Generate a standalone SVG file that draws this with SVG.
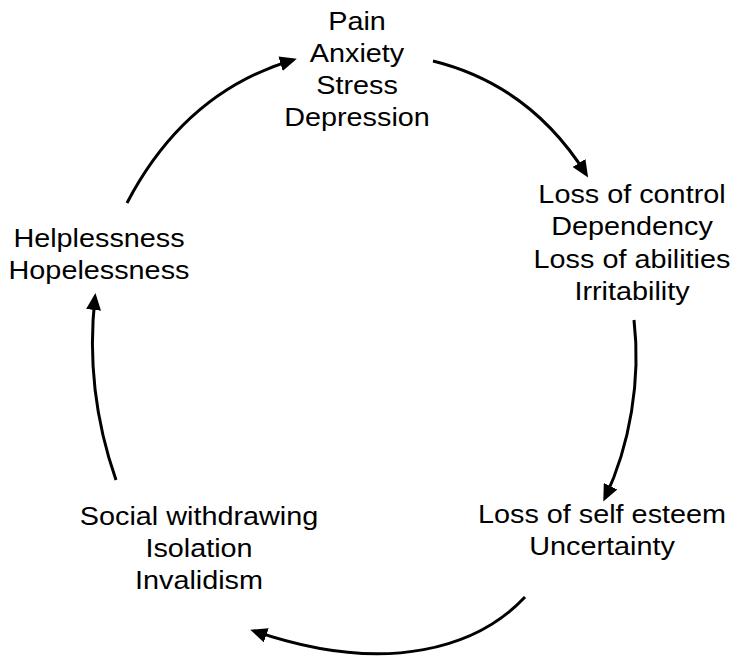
<svg xmlns="http://www.w3.org/2000/svg" width="735" height="657" viewBox="0 0 735 657">
<defs>
<style>
text{font-family:"Liberation Sans",Arial,Helvetica,sans-serif;font-size:25.5px;fill:#000;text-anchor:middle}
.c{fill:none;stroke:#000;stroke-width:3;marker-end:url(#ah)}
</style>
<marker id="ah" markerUnits="userSpaceOnUse" markerWidth="17" markerHeight="15" viewBox="0 0 17 15" refX="13" refY="7.5" orient="auto">
<path d="M0,0 L17,7.5 L0,15 z" fill="#000"/>
</marker>
</defs>
<rect width="735" height="657" fill="#fff"/>
<g id="connectors">
<path class="c" d="M433,61 Q530,85 586,174"/>
<path class="c" d="M634,320 C641,380 630,445 605,498"/>
<path class="c" d="M525,597 C480,645 390,678 254,631"/>
<path class="c" d="M116,480 C95,420 88,360 95,297"/>
<path class="c" d="M127,203 Q185,92 293,60"/>
</g>
<g id="node-pain" transform="translate(357,0) scale(1.13,1)">
<text x="0" y="30">Pain</text>
<text x="0" y="62">Anxiety</text>
<text x="0" y="94">Stress</text>
<text x="0" y="126">Depression</text>
</g>
<g id="node-control" transform="translate(632,0) scale(1.13,1)">
<text x="0" y="203">Loss of control</text>
<text x="0" y="235">Dependency</text>
<text x="0" y="268">Loss of abilities</text>
<text x="0" y="300">Irritability</text>
</g>
<g id="node-esteem" transform="translate(602,0) scale(1.13,1)">
<text x="0" y="523">Loss of self esteem</text>
<text x="0" y="555">Uncertainty</text>
</g>
<g id="node-social" transform="translate(199,0) scale(1.13,1)">
<text x="0" y="525">Social withdrawing</text>
<text x="0" y="557">Isolation</text>
<text x="0" y="589">Invalidism</text>
</g>
<g id="node-helpless" transform="translate(99,0) scale(1.13,1)">
<text x="0" y="247">Helplessness</text>
<text x="0" y="279">Hopelessness</text>
</g>
</svg>
